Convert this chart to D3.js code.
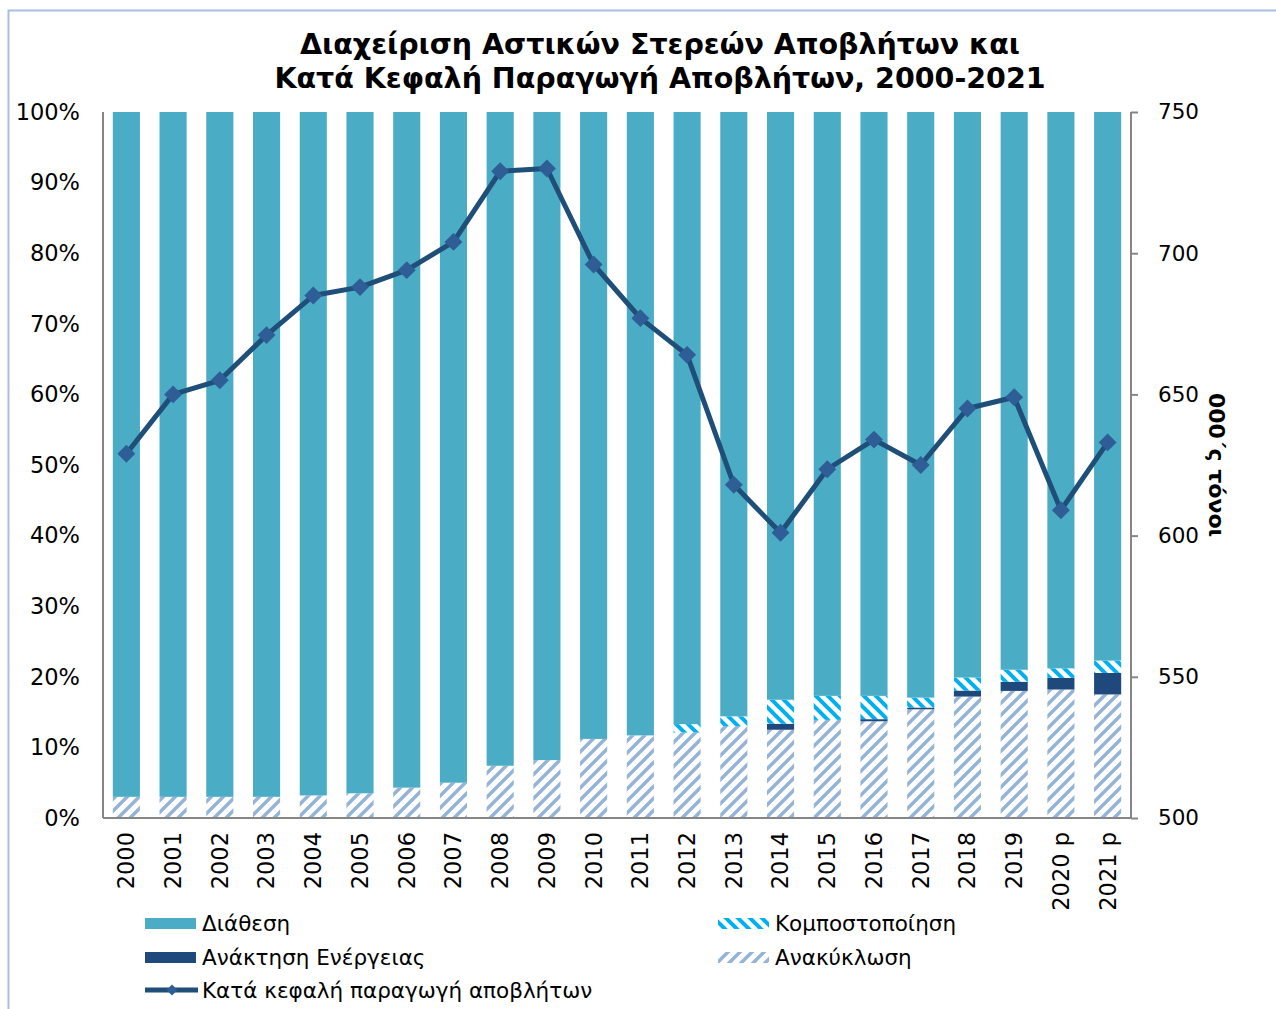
<html>
<script src="https://d3js.org/d3.v7.min.js"></script>
<style>
body{
    margin:0;
    background:#fff;
}
text{
    font-family:"DejaVu Sans", Verdana, sans-serif;
    fill:#000;
}
</style>
<body>
<div class="chart"></div>
</body>
<script>
const years = ['2000','2001','2002','2003','2004','2005','2006','2007','2008','2009','2010',
    '2011','2012','2013','2014','2015','2016','2017','2018','2019','2020 p','2021 p'];
// shares of municipal waste, %
const recycling = [3.0,3.0,3.0,3.0,3.2,3.5,4.3,5.0,7.4,8.2,11.2,11.7,12.1,13.0,12.5,13.9,13.7,15.4,17.2,18.0,18.2,17.5];
const energyRecovery = [0,0,0,0,0,0,0,0,0,0,0,0,0,0,0.85,0,0.3,0.25,0.85,1.3,1.65,3.05];
const composting = [0,0,0,0,0,0,0,0,0,0,0,0,1.2,1.4,3.4,3.4,3.3,1.4,1.85,1.7,1.35,1.75];
// per capita waste generation (kg) on the right axis
const perCapita = [629,650,655,671,685,688,694,704,729,730,696,677,664,618,601,623.5,634,625,645,649,609,633];

const leftTicks = [0,10,20,30,40,50,60,70,80,90,100];
const rightTicks = [500,550,600,650,700,750];

const W = 1276, H = 1009;
const plot = {left:103, right:1131, top:112, bottom:818};

const svg = d3.select('.chart').append('svg')
    .attr('width', W)
    .attr('height', H);

const defs = svg.append('defs');
defs.append('pattern')
    .attr('id', 'recyc')
    .attr('patternUnits', 'userSpaceOnUse')
    .attr('width', 12).attr('height', 12)
    .call(p=>{
        p.append('rect').attr('width', 12).attr('height', 12).attr('fill', '#fff');
        p.append('path')
            .attr('d', 'M-3,3 L3,-3 M0,12 L12,0 M9,15 L15,9')
            .attr('stroke', '#95b3d7')
            .attr('stroke-width', 3.5);
    });
defs.append('pattern')
    .attr('id', 'compost')
    .attr('patternUnits', 'userSpaceOnUse')
    .attr('width', 12).attr('height', 12)
    .call(p=>{
        p.append('rect').attr('width', 12).attr('height', 12).attr('fill', '#fff');
        p.append('path')
            .attr('d', 'M-3,9 L3,15 M0,0 L12,12 M9,-3 L15,3')
            .attr('stroke', '#00b0f0')
            .attr('stroke-width', 4);
    });

// outer frame
svg.append('rect')
    .attr('x', 8.5).attr('y', 10.5)
    .attr('width', 1320).attr('height', 1100)
    .attr('fill', 'none')
    .attr('stroke', '#a7c0e2')
    .attr('stroke-width', 2);

svg.append('text')
    .attr('x', 660)
    .attr('text-anchor', 'middle')
    .attr('font-weight', 'bold')
    .attr('font-size', 28.5)
    .call(t=>{
        t.append('tspan').attr('x', 660).attr('y', 54).text('Διαχείριση Αστικών Στερεών Αποβλήτων και');
        t.append('tspan').attr('x', 660).attr('y', 88).text('Κατά Κεφαλή Παραγωγή Αποβλήτων, 2000-2021');
    });

const x = d3.scaleBand()
    .domain(years)
    .range([plot.left, plot.right])
    .paddingInner(0.42)
    .paddingOuter(0.21);

const yPct = d3.scaleLinear()
    .domain([0, 100])
    .range([plot.bottom, plot.top]);

const yKg = d3.scaleLinear()
    .domain([500, 750])
    .range([plot.bottom, plot.top]);

const rows = years.map((year, i)=>({
    year,
    recycling: recycling[i],
    energy: energyRecovery[i],
    composting: composting[i],
    disposal: 100 - recycling[i] - energyRecovery[i] - composting[i]
}));

const keys = ['recycling', 'energy', 'composting', 'disposal'];
const fills = {
    recycling: 'url(#recyc)',
    energy: '#1f497d',
    composting: 'url(#compost)',
    disposal: '#4bacc6'
};

const stack = d3.stack().keys(keys)(rows);

svg.append('g')
    .selectAll('g')
    .data(stack)
    .enter()
    .append('g')
        .attr('fill', d=>fills[d.key])
    .selectAll('rect')
    .data(d=>d)
    .enter()
    .append('rect')
        .attr('x', d=>x(d.data.year))
        .attr('width', x.bandwidth())
        .attr('y', d=>yPct(d[1]))
        .attr('height', d=>yPct(d[0]) - yPct(d[1]));

// axes
const leftAxis = svg.append('g')
    .attr('transform', `translate(${plot.left},0)`)
    .call(d3.axisLeft(yPct).tickValues(leftTicks).tickSize(0).tickPadding(23).tickFormat(d=>d + '%'));

const rightAxis = svg.append('g')
    .attr('transform', `translate(${plot.right},0)`)
    .call(d3.axisRight(yKg).tickValues(rightTicks).tickSize(7).tickPadding(20));

const bottomAxis = svg.append('g')
    .attr('transform', `translate(0,${plot.bottom})`)
    .call(d3.axisBottom(x).tickSize(0).tickPadding(0));

[leftAxis, rightAxis, bottomAxis].forEach(a=>{
    a.select('.domain').attr('stroke', '#868686').attr('stroke-width', 2);
    a.selectAll('.tick line').attr('stroke', '#868686').attr('stroke-width', 2);
    a.selectAll('text')
        .attr('font-family', '"DejaVu Sans", Verdana, sans-serif')
        .attr('font-size', 22.5)
        .attr('fill', '#000');
});
rightAxis.selectAll('text').attr('font-size', 21.5);

bottomAxis.selectAll('text')
    .attr('transform', 'rotate(-90)')
    .attr('text-anchor', 'end')
    .attr('dy', '0.35em')
    .attr('x', -14)
    .attr('y', 0);

rightAxis.select('.domain').attr('d', `M0,${plot.top}V${plot.bottom}`);
leftAxis.select('.domain').attr('d', `M0,${plot.top}V${plot.bottom}`);
bottomAxis.select('.domain').attr('d', `M${plot.left},0H${plot.right}`);

svg.append('text')
    .attr('transform', `translate(1209,465) rotate(90)`)
    .attr('text-anchor', 'middle')
    .attr('font-weight', 'bold')
    .attr('font-size', 22)
    .text('000΄ς τόνοι');

// per capita line
const line = d3.line()
    .x((d, i)=>x(years[i]) + x.bandwidth() / 2)
    .y(d=>yKg(d));

svg.append('path')
    .attr('d', line(perCapita))
    .attr('fill', 'none')
    .attr('stroke', '#1f4e79')
    .attr('stroke-width', 5)
    .attr('stroke-linejoin', 'round');

const diamond = d3.symbol().type(d3.symbolSquare).size(160);
svg.append('g')
    .selectAll('path')
    .data(perCapita)
    .enter()
    .append('path')
        .attr('d', diamond)
        .attr('transform', (d, i)=>`translate(${x(years[i]) + x.bandwidth() / 2},${yKg(d)}) rotate(45)`)
        .attr('fill', '#2f5d95');

// legend
const legend = svg.append('g');
const legendItems = [
    {label:'Διάθεση', fill:fills.disposal, x:145, y:923},
    {label:'Ανάκτηση Ενέργειας', fill:fills.energy, x:145, y:957},
    {label:'Κομποστοποίηση', fill:fills.composting, x:718, y:923},
    {label:'Ανακύκλωση', fill:fills.recycling, x:718, y:957}
];
legendItems.forEach(item=>{
    legend.append('rect')
        .attr('x', item.x).attr('y', item.y - 5)
        .attr('width', 51).attr('height', 11)
        .attr('fill', item.fill);
    legend.append('text')
        .attr('x', item.x + 57).attr('y', item.y)
        .attr('dy', '0.35em')
        .attr('font-size', 21.5)
        .text(item.label);
});
legend.append('line')
    .attr('x1', 145).attr('x2', 198)
    .attr('y1', 990).attr('y2', 990)
    .attr('stroke', '#1f4e79')
    .attr('stroke-width', 5);
legend.append('path')
    .attr('d', d3.symbol().type(d3.symbolSquare).size(60))
    .attr('transform', 'translate(172,990) rotate(45)')
    .attr('fill', '#2f5d95');
legend.append('text')
    .attr('x', 202).attr('y', 990)
    .attr('dy', '0.35em')
    .attr('font-size', 21.5)
    .text('Κατά κεφαλή  παραγωγή αποβλήτων');
</script>
</html>
